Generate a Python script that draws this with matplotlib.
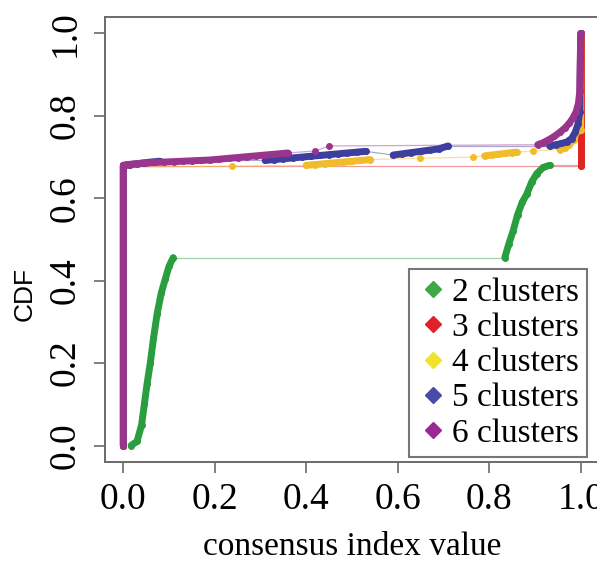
import matplotlib
matplotlib.use("Agg")
import matplotlib.pyplot as plt
from matplotlib.lines import Line2D
import numpy as np

# ---------------- data ----------------
labels = ["2 clusters", "3 clusters", "4 clusters", "5 clusters", "6 clusters"]

x_k2 = [0.017, 0.03, 0.040, 0.046, 0.052, 0.059, 0.066, 0.074, 0.083, 0.092, 0.100, 0.109,
        0.834, 0.843, 0.852, 0.862, 0.872, 0.882, 0.893, 0.904, 0.918, 0.932, 1.0, 1.0]
y_k2 = [0.0, 0.01, 0.05, 0.10, 0.15, 0.20, 0.26, 0.32, 0.37, 0.405, 0.435, 0.456,
        0.456, 0.49, 0.52, 0.56, 0.59, 0.61, 0.64, 0.66, 0.675, 0.680, 0.680, 1.0]

x_k3 = [0.0, 0.0, 1.0, 1.0]
y_k3 = [0.0, 0.678, 0.678, 1.0]

x_k4 = [0.0, 0.0, 0.238, 0.40, 0.42, 0.44, 0.46, 0.48, 0.50, 0.52, 0.54, 0.648, 0.764,
        0.790, 0.805, 0.82, 0.835, 0.85, 0.86, 0.895, 0.955, 0.965, 0.975, 0.985, 0.99, 1.0, 1.0]
y_k4 = [0.0, 0.675, 0.678, 0.680, 0.682, 0.684, 0.686, 0.688, 0.690, 0.692, 0.694, 0.697, 0.700,
        0.703, 0.705, 0.707, 0.709, 0.711, 0.712, 0.715, 0.718, 0.723, 0.730, 0.742, 0.760, 0.765, 1.0]

x_k5 = [0.0, 0.0, 0.015, 0.03, 0.045, 0.06, 0.08, 0.31, 0.33, 0.35, 0.37, 0.39, 0.41, 0.43,
        0.45, 0.47, 0.49, 0.51, 0.53, 0.59, 0.61, 0.63, 0.65, 0.67, 0.69, 0.71, 0.932,
        0.945, 0.958, 0.970, 0.980, 0.988, 0.994, 0.998, 1.0]
y_k5 = [0.0, 0.680, 0.682, 0.684, 0.686, 0.688, 0.690, 0.692, 0.694, 0.696, 0.698, 0.700, 0.702, 0.704,
        0.706, 0.708, 0.710, 0.712, 0.714, 0.705, 0.708, 0.711, 0.714, 0.717, 0.720, 0.727, 0.727,
        0.730, 0.733, 0.737, 0.745, 0.760, 0.780, 0.810, 1.0]

x_k6 = [0.0, 0.0, 0.01, 0.03, 0.05, 0.07, 0.09, 0.11, 0.13, 0.15, 0.17, 0.19, 0.21, 0.23,
        0.25, 0.27, 0.29, 0.31, 0.33, 0.35, 0.36, 0.42, 0.45, 0.906, 0.918, 0.930, 0.942,
        0.954, 0.965, 0.975, 0.983, 0.990, 0.995, 0.998, 1.0]
y_k6 = [0.0, 0.680, 0.682, 0.684, 0.686, 0.687, 0.688, 0.689, 0.690, 0.691, 0.692, 0.693, 0.695, 0.697,
        0.699, 0.701, 0.703, 0.705, 0.707, 0.709, 0.710, 0.715, 0.727, 0.730, 0.735, 0.742, 0.750,
        0.760, 0.770, 0.782, 0.795, 0.810, 0.830, 0.860, 1.0]

series_x = [x_k2, x_k3, x_k4, x_k5, x_k6]
series_y = [y_k2, y_k3, y_k4, y_k5, y_k6]

x_ticks = [0.0, 0.2, 0.4, 0.6, 0.8, 1.0]
y_ticks = [0.0, 0.2, 0.4, 0.6, 0.8, 1.0]

# ---------------- styles ----------------
plot_colors = ["#2A9E3E", "#E02424", "#F0BC2C", "#3E3E9E", "#9A358E"]
legend_colors = ["#3DAA45", "#E0202A", "#F2E22A", "#4A4AA8", "#9A2A92"]
serif = ["Liberation Serif", "DejaVu Serif"]

W, H = 597, 564
fig = plt.figure(figsize=(W / 100, H / 100), dpi=100)
ax = fig.add_axes([105 / W, 1 - 462 / H, (599 - 105) / W, (462 - 17) / H])
ax.set_xlim(-0.04, 1.04)
ax.set_ylim(-0.04, 1.04)

thick_dx = 0.025
thick_lw = 5.0
for xs, ys, c in zip(series_x, series_y, plot_colors):
    xs = np.asarray(xs, float)
    ys = np.asarray(ys, float)
    # thin connecting segments for wide horizontal gaps, thick runs elsewhere
    run = [0]
    for i in range(1, len(xs)):
        if abs(xs[i] - xs[i - 1]) < thick_dx:
            run.append(i)
        else:
            if len(run) > 1:
                ax.plot(xs[run], ys[run], color=c, lw=thick_lw, solid_capstyle="round",
                        solid_joinstyle="round", zorder=3)
            ax.plot(xs[i - 1:i + 1], ys[i - 1:i + 1], color=c, lw=0.9, alpha=0.45, zorder=2)
            run = [i]
    if len(run) > 1:
        ax.plot(xs[run], ys[run], color=c, lw=thick_lw, solid_capstyle="round",
                solid_joinstyle="round", zorder=3)
    ax.plot(xs, ys, linestyle="none", marker="o", ms=4.0, color=c, mec=c, zorder=3)

for s in ["left", "top", "bottom", "right"]:
    ax.spines[s].set_color("#6a6a6a")
    ax.spines[s].set_linewidth(1.4)

ax.set_xticks(x_ticks)
ax.set_yticks(y_ticks)
ax.set_xticklabels([f"{v:.1f}" for v in x_ticks], fontfamily=serif, fontsize=27)
ax.set_yticklabels([f"{v:.1f}" for v in y_ticks], fontfamily=serif, fontsize=27,
                   rotation=90, va="center")
ax.tick_params(axis="both", direction="out", length=8, width=1.2, color="#6a6a6a")
ax.tick_params(axis="x", pad=7)
ax.tick_params(axis="y", pad=8)

ax.set_xlabel("consensus index value", fontfamily=serif, fontsize=24, labelpad=10)
fig.text(25 / W, 1 - 294 / H, "CDF", rotation=90, ha="center", va="center",
         fontfamily=["Liberation Sans", "DejaVu Sans"], fontsize=19)

handles = [Line2D([], [], marker="D", linestyle="none", color=c, markersize=8.5)
           for c in legend_colors]
leg = ax.legend(handles, labels, loc="lower right",
                bbox_to_anchor=(587 / W, 1 - 457 / H), bbox_transform=fig.transFigure,
                borderaxespad=0, prop={"family": serif, "size": 24},
                frameon=True, fancybox=False, handlelength=0.9, handletextpad=0.12,
                labelspacing=0.14, borderpad=0.25)
leg.get_frame().set_edgecolor("#555555")
leg.get_frame().set_linewidth(1.5)

fig.savefig("out.png", dpi=100)
